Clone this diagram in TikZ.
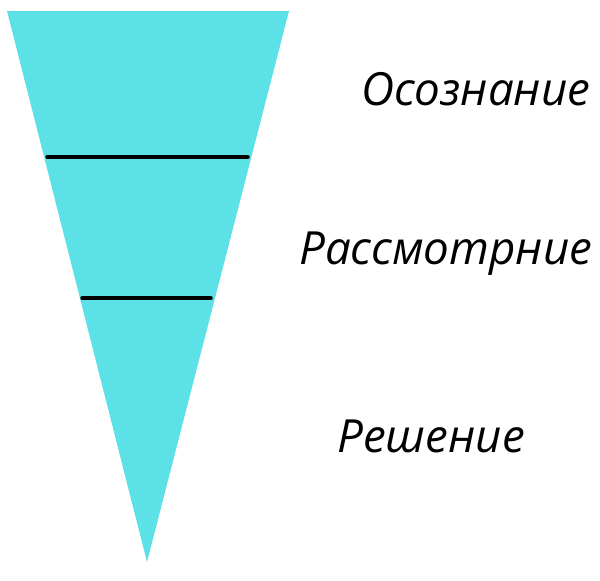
\documentclass[tikz,border=0pt]{standalone}
\usepackage{fontspec}
\setmainfont{Open Sans}
\usepackage{tikz}
\usetikzlibrary{positioning}
\definecolor{funnelcyan}{HTML}{5CE1E6}

\begin{document}
\begin{tikzpicture}[x=1pt,y=-1pt]
       \tikzset{funnel/.style={fill=funnelcyan, draw=none}}

       \tikzset{divider/.style={line width=3.5pt, line cap=round, black}}

        \tikzset{stage/.style={font=\fontsize{45.7}{52}\selectfont\itshape, inner sep=0pt, anchor=base west}}

        \useasboundingbox (0,0) rectangle (600,581);

        \coordinate (topleft) at (7,11);
        \coordinate (topright) at (289,11);
        \coordinate (apex) at (147,562);
        \fill[funnel] (topleft) -- (topright) -- (apex) -- cycle;

        \coordinate (div1l) at (47,157);
        \coordinate (div1r) at (248,157);
        \coordinate (div2l) at (82,298);
        \coordinate (div2r) at (211,298);
        \draw[divider] (div1l) -- (div1r);
        \draw[divider] (div2l) -- (div2r);

        \node[stage] (stage1) at (361,105) {Осознание};
        \node[stage] (stage2) at (299,264) {Рассмотрние};
        \node[stage] (stage3) at (337,452) {Решение};

   \end{tikzpicture}
\end{document}
